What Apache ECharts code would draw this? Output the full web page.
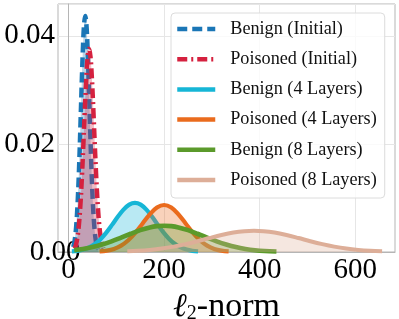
<!DOCTYPE html>
<html><head><meta charset="utf-8">
<script src="https://cdn.jsdelivr.net/npm/echarts@6/dist/echarts.min.js"></script>
<style>html,body{margin:0;padding:0;background:#fff}#c{width:399px;height:319px}</style>
</head><body><div id="c"></div>
<script>
const seriesNames = ['Benign (Initial)', 'Poisoned (Initial)', 'Benign (4 Layers)', 'Poisoned (4 Layers)', 'Benign (8 Layers)', 'Poisoned (8 Layers)'];
const xTickValues = [0, 200, 400, 600];
const yTickValues = [0, 0.02, 0.04];

const xBenignInit = [10, 13, 16, 19, 22, 25, 28, 31, 33, 35, 37, 39, 42, 45, 48, 51, 54, 57, 60, 62];
const yBenignInit = [0.00092, 0.0022, 0.0047, 0.0090, 0.0154, 0.0236, 0.0323, 0.0396, 0.0426, 0.0437, 0.0426, 0.0396, 0.0323, 0.0236, 0.0154, 0.0090, 0.0047, 0.0022, 0.00092, 0.00049];

const xPoisonInit = [13, 16, 19, 22, 25, 28, 31, 34, 37, 40, 43, 46, 49, 52, 55, 58, 61, 64, 67, 70, 73];
const yPoisonInit = [0.00068, 0.00147, 0.0029, 0.0053, 0.0089, 0.0138, 0.0198, 0.0262, 0.0320, 0.0361, 0.0376, 0.0361, 0.0320, 0.0262, 0.0198, 0.0138, 0.0089, 0.0053, 0.0029, 0.00147, 0.00068];

const xBenign4 = [7, 19, 31, 43, 55, 67, 79, 91, 103, 115, 127, 139, 151, 163, 175, 187, 199, 211, 223, 235, 247, 259, 271];
const yBenign4 = [0.00010, 0.00022, 0.00045, 0.00084, 0.00147, 0.00238, 0.00359, 0.00502, 0.00651, 0.00784, 0.00877, 0.0091, 0.00877, 0.00784, 0.00651, 0.00502, 0.00359, 0.00238, 0.00147, 0.00084, 0.00045, 0.00022, 0.00010];

const xPoison4 = [65, 80, 95, 110, 125, 140, 155, 170, 185, 200, 215, 230, 245, 260, 275, 290, 305, 320, 335];
const yPoison4 = [0.00010, 0.00025, 0.00057, 0.00118, 0.00217, 0.00358, 0.00528, 0.00697, 0.00823, 0.0087, 0.00823, 0.00697, 0.00528, 0.00358, 0.00217, 0.00118, 0.00057, 0.00025, 0.00010];

const xBenign8 = [12, 30, 50, 70, 90, 110, 130, 150, 170, 185, 200, 215, 230, 250, 270, 290, 310, 330, 350, 370, 390, 410, 435];
const yBenign8 = [0.00035, 0.00057, 0.00091, 0.00139, 0.00198, 0.00267, 0.00338, 0.00404, 0.00455, 0.00479, 0.00487, 0.00479, 0.00455, 0.00404, 0.00338, 0.00267, 0.00198, 0.00139, 0.00091, 0.00057, 0.00033, 0.00018, 0.00008];

const xPoison8 = [123, 145, 170, 195, 220, 245, 270, 295, 320, 345, 368, 388, 408, 431, 456, 481, 506, 531, 556, 581, 606, 631, 656];
const yPoison8 = [0.00013, 0.00022, 0.00038, 0.00063, 0.00099, 0.00145, 0.00199, 0.00258, 0.00314, 0.0036, 0.00386, 0.00394, 0.00386, 0.0036, 0.00314, 0.00258, 0.00199, 0.00145, 0.00099, 0.00063, 0.00038, 0.00022, 0.00013];

const colors = ['#1a76b6', '#d5213f', '#16b6d6', '#ea6b1d', '#5b9a2b', '#ddae98'];
const xs = [xBenignInit, xPoisonInit, xBenign4, xPoison4, xBenign8, xPoison8];
const ys = [yBenignInit, yPoisonInit, yBenign4, yPoison4, yBenign8, yPoison8];
const dashes = [[10, 5], [10, 4, 2, 4], 'solid', 'solid', 'solid', 'solid'];
const widths = [4.5, 4.5, 4.2, 4.2, 4.6, 4];

const chart = echarts.init(document.getElementById('c'), null, {renderer: 'canvas'});
const serif = 'Liberation Serif';
chart.setOption({
  animation: false,
  backgroundColor: '#fff',
  grid: {left: 58, right: 4, top: 4, bottom: 67, show: true, borderColor: '#b5b5b5', borderWidth: 1,
    backgroundColor: 'transparent', containLabel: false, outerBoundsMode: 'none'},
  legend: {
    orient: 'vertical', left: 171, top: 13,
    itemWidth: 38, itemHeight: 14, itemGap: 12.2,
    padding: [7, 8, 9, 4],
    backgroundColor: 'rgba(255,255,255,0.8)', borderColor: '#dcdcdc', borderWidth: 1, borderRadius: 4,
    itemStyle: {opacity: 0, borderWidth: 0},
    lineStyle: {width: 4.5},
    textStyle: {fontFamily: serif, fontSize: 18.2, color: '#111', padding: [0, 0, 0, 10]},
    data: seriesNames
  },
  xAxis: {
    type: 'value', min: -22, max: 683,
    axisLine: {show: true, lineStyle: {color: '#b5b5b5'}},
    axisTick: {show: false, customValues: xTickValues},
    splitLine: {show: true, lineStyle: {color: '#e6e6e6', width: 1}},
    axisLabel: {customValues: xTickValues, fontFamily: serif, fontSize: 29, color: '#000', margin: 4},
    name: '{l|ℓ}{s|2}{n|-norm}',
    nameLocation: 'middle', nameGap: 18,
    nameTextStyle: {
      color: '#000',
      rich: {
        l: {fontFamily: serif, fontStyle: 'italic', fontSize: 33, color: '#000', verticalAlign: 'middle'},
        s: {fontFamily: serif, fontSize: 20, color: '#000', verticalAlign: 'bottom', padding: [14, 0, 0, 0]},
        n: {fontFamily: serif, fontSize: 34, color: '#000', verticalAlign: 'middle'}
      }
    }
  },
  yAxis: {
    type: 'value', min: 0, max: 0.0459, interval: 0.02,
    axisLine: {show: true, lineStyle: {color: '#b5b5b5'}},
    axisTick: {show: false},
    splitLine: {show: true, lineStyle: {color: '#e6e6e6', width: 1}},
    axisLabel: {showMaxLabel: false, fontFamily: serif, fontSize: 29, color: '#000', margin: 3,
      verticalAlign: 'middle', alignMinLabel: 'middle', padding: [7, 0, 0, 0],
      formatter: v => yTickValues.some(t => Math.abs(t - v) < 1e-9) ? v.toFixed(2) : ''}
  },
  series: seriesNames.map((name, i) => ({
    type: 'line', name,
    data: xs[i].map((x, j) => [x, ys[i][j]]),
    smooth: 0.35, symbol: 'none', showSymbol: false,
    lineStyle: {color: colors[i], width: widths[i], type: dashes[i], cap: 'butt'},
    itemStyle: {color: colors[i]},
    areaStyle: {color: colors[i], opacity: 0.3},
    z: 2 + i
  }))
});
</script></body></html>
